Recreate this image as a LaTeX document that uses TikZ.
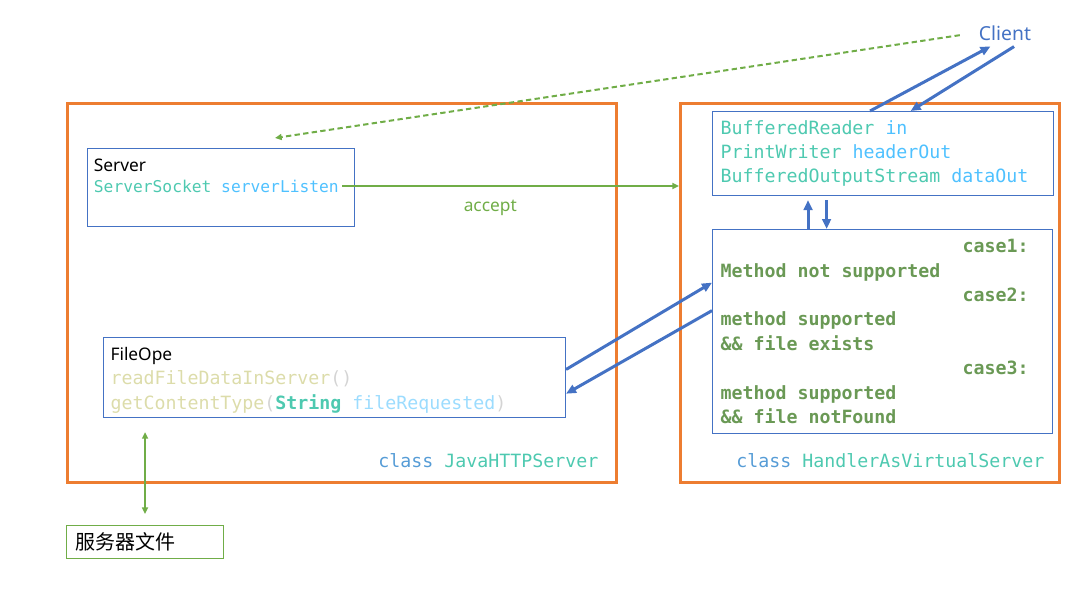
\documentclass[tikz,border=0pt]{standalone}
\usepackage{fontspec}
\setmainfont{Noto Sans}
\setmonofont{DejaVu Sans Mono}
\newfontfamily\cjk{Noto Sans CJK SC}
\usetikzlibrary{arrows.meta}
\definecolor{orangeline}{HTML}{ED7D31}
\definecolor{blueline}{HTML}{4472C4}
\definecolor{greenline}{HTML}{70AD47}
\definecolor{typecol}{HTML}{4EC9B0}
\definecolor{varcol}{HTML}{4FC1FF}
\definecolor{paramcol}{HTML}{9CDCFE}
\definecolor{funccol}{HTML}{DCDCAA}
\definecolor{parencol}{HTML}{D4D4D4}
\definecolor{keycol}{HTML}{569CD6}
\definecolor{commentcol}{HTML}{6A9955}
\begin{document}
\begin{tikzpicture}[x=0.75pt,y=-0.75pt,
    classbox/.style={draw=orangeline,line width=2.25pt,anchor=north west,inner sep=0pt},
    codebox/.style={draw=blueline,line width=0.8pt,anchor=north west,align=left,inner xsep=6pt,inner ysep=0pt,
        font=\ttfamily\fontsize{13.7}{18.3}\selectfont,execute at begin node={\spaceskip=0pt\xspaceskip=0pt}},
    classname/.style={anchor=east,font=\ttfamily\fontsize{13.7}{16}\selectfont},
    flow/.style={->,draw=blueline,line width=2.25pt,>={Triangle[length=7.5pt,width=6.5pt]}},
    link/.style={draw=greenline,line width=1.5pt,>={Triangle[length=5pt,width=4.5pt]}}]
        \useasboundingbox (0,0) rectangle (1079,600);

        \draw (66,102) node (jhs) [classbox,minimum width=411.75pt,minimum height=284.25pt] {};
        \draw (679,102) node (havs) [classbox,minimum width=284.25pt,minimum height=284.25pt] {};
        \draw ([shift={(-15,-23)}]jhs.south east) node (jhsname) [classname] {\color{keycol}class \color{typecol}JavaHTTPServer};
        \draw ([shift={(-12,-23)}]havs.south east) node (havsname) [classname] {\color{keycol}class \color{typecol}HandlerAsVirtualServer};

        \draw (87,148) node (server) [codebox,minimum width=200.25pt,minimum height=58.5pt] {};
        \draw (server.north west) node (servertxt) [anchor=north west,align=left,inner xsep=5pt,inner ysep=8pt,font=\fontsize{13}{15.75}\selectfont]
            {Server\\{\ttfamily\fontsize{12.2}{15.75}\selectfont\color{typecol}ServerSocket \color{varcol}serverListen}};

        \draw (103,337) node (fileope) [codebox,text width=336pt,inner xsep=5.25pt,minimum height=60pt]
            {{\rmfamily\fontsize{13}{18}\selectfont\rule{0pt}{13.8pt}FileOpe}\\
             \color{funccol}readFileDataInServer\color{parencol}()\\
             \color{funccol}getContentType\color{parencol}(\color{typecol}\bfseries String\mdseries\ \color{paramcol}fileRequested\color{parencol})};

        \draw (712,111) node (fields) [codebox,text width=243.75pt,minimum height=63pt]
            {\color{typecol}BufferedReader \color{varcol}in\\
             \color{typecol}PrintWriter \color{varcol}headerOut\\
             \color{typecol}BufferedOutputStream \color{varcol}dataOut};

        \draw (712,229) node (cases) [codebox,text width=243pt,minimum height=153pt,text=commentcol,font=\ttfamily\bfseries\fontsize{13.7}{18.3}\selectfont]
            {\hspace*{181.5pt}case1:\\
             Method not supported\\
             \hspace*{181.5pt}case2:\\
             method supported\\
             \&\& file exists\\
             \hspace*{181.5pt}case3:\\
             method supported\\
             \&\& file notFound};

        \draw (1005,33) node (client) [text=blueline,font=\fontsize{14.5}{17}\selectfont] {Client};
        \draw (66,525) node (files) [draw=greenline,line width=0.8pt,anchor=north west,minimum height=24.75pt,text width=104.25pt,inner xsep=6.75pt,font=\cjk\fontsize{15}{18}\selectfont] {服务器文件};

        \coordinate (listen) at (342,186);
        \coordinate (srvdoor) at (275,138);

        \draw [link,->] (listen) -- node [pos=0.44,below=6.5pt,text=greenline,font=\fontsize{13}{16}\selectfont] {accept} (listen -| havs.west);
        \draw [link,->,dash pattern=on 4pt off 2.5pt,shorten <=11pt] (client.west) -- (srvdoor);
        \draw [link,<->,shorten <=8.25pt,shorten >=10.5pt] (files.north) -- (files.north |- fileope.south);

        \draw [flow,shorten >=2pt] (fields.107.8) -- (client.225);
        \draw [flow,shorten <=2pt] (client.-47) -- (fields.57.75);
        \draw [flow,shorten >=3pt] (cases.126.3) -- (cases.126.3 |- fields.south);
        \draw [flow,shorten <=3pt] (fields.217.6) -- (fields.217.6 |- cases.north);
        \draw [flow] (fileope.2.73) -- (cases.164.2);
        \draw [flow] (cases.173.96) -- (fileope.-4.95);
\end{tikzpicture}
\end{document}
